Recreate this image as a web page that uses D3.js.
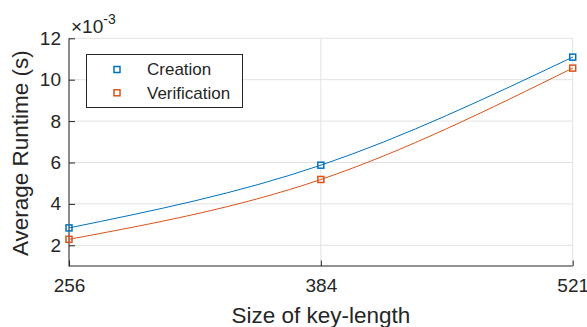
<!DOCTYPE html>
<html><head><meta charset="utf-8">
<script src="https://cdn.jsdelivr.net/npm/d3@7"></script>
<style>
html,body{margin:0;padding:0;background:#fff;}
svg{display:block;font-family:"Liberation Sans",Arial,Helvetica,sans-serif;}
</style></head>
<body>
<svg id="chart" width="587" height="327"></svg>
<script>
const categories = ["256", "384", "521"];
const creation = [2.84, 5.87, 11.09];
const verification = [2.29, 5.18, 10.56];
const yTicks = [2, 4, 6, 8, 10, 12];
const seriesNames = ["Creation", "Verification"];
const seriesColors = ["#0072BD", "#D95319"];

const svg = d3.select("#chart");
const L = 69, R = 572.7, T = 38.3, B = 266;
const x = d3.scalePoint().domain(categories).range([L, R]).padding(0);
const y = d3.scaleLinear().domain([1, 12]).range([B, T]);
const ink = "#262626", grid = "#e2e2e2";

// grid
const g = svg.append("g");
g.selectAll("line.gy").data(yTicks).join("line")
  .attr("x1", L).attr("x2", R).attr("y1", d => y(d)).attr("y2", d => y(d))
  .attr("stroke", grid).attr("stroke-width", 1);
g.selectAll("line.gx").data(categories).join("line")
  .attr("x1", d => x(d)).attr("x2", d => x(d)).attr("y1", T).attr("y2", B)
  .attr("stroke", grid).attr("stroke-width", 1);

// axes
const yAxis = d3.axisLeft(y).tickValues(yTicks).tickSize(-6).tickPadding(8).tickSizeOuter(0);
const ya = svg.append("g").attr("transform", `translate(${L},0)`).call(yAxis);
const xAxis = d3.axisBottom(x).tickSize(-5.5).tickPadding(13).tickSizeOuter(0);
const xa = svg.append("g").attr("transform", `translate(0,${B})`).call(xAxis);
[ya, xa].forEach(a => {
  a.selectAll(".tick line").attr("stroke", ink);
  a.selectAll("text").attr("fill", ink).attr("font-size", 19)
    .attr("font-family", '"Liberation Sans",Arial,sans-serif');
});
ya.select(".domain").remove();
xa.select(".domain").remove();
svg.append("line").attr("x1", L).attr("x2", L).attr("y1", T).attr("y2", B + 0.5).attr("stroke", ink);
svg.append("line").attr("x1", L).attr("x2", R).attr("y1", B).attr("y2", B).attr("stroke", ink);
xa.selectAll("text").attr("dy", "0.71em");

// exponent
const ex = svg.append("text").attr("x", 71).attr("y", 33).attr("fill", ink)
  .attr("font-size", 19);
ex.append("tspan").text("\u00d710");
ex.append("tspan").attr("dy", -9).attr("font-size", 14).text("-3");

// series
const line = d3.line().x((d, i) => x(categories[i])).y(d => y(d)).curve(d3.curveNatural);
[creation, verification].forEach((s, k) => {
  svg.append("path").datum(s).attr("d", line).attr("fill", "none")
    .attr("stroke", seriesColors[k]).attr("stroke-width", 1);
  svg.selectAll(null).data(s).join("rect")
    .attr("x", (d, i) => x(categories[i]) - 3).attr("y", d => y(d) - 3)
    .attr("width", 6).attr("height", 6).attr("fill", "none")
    .attr("stroke", seriesColors[k]).attr("stroke-width", 1.5);
});

// legend
const lg = svg.append("g");
lg.append("rect").attr("x", 86.5).attr("y", 54.5).attr("width", 156).attr("height", 53)
  .attr("fill", "#fff").attr("stroke", ink).attr("stroke-width", 1);
seriesNames.forEach((n, k) => {
  const cy = 69.5 + k * 23.3;
  lg.append("rect").attr("x", 114).attr("y", cy - 3).attr("width", 6).attr("height", 6)
    .attr("fill", "none").attr("stroke", seriesColors[k]).attr("stroke-width", 1.5);
  lg.append("text").attr("x", 147).attr("y", cy).attr("dy", "0.35em")
    .attr("font-size", 17).attr("fill", ink).text(n);
});

// axis labels
svg.append("text").attr("x", (L + R) / 2).attr("y", 323).attr("text-anchor", "middle")
  .attr("font-size", 22.5).attr("fill", ink).text("Size of key-length");
svg.append("text").attr("transform", `translate(27.5,${(T + B) / 2 + 1}) rotate(-90)`)
  .attr("text-anchor", "middle").attr("font-size", 22.5).attr("fill", ink)
  .text("Average Runtime (s)");
</script>
</body></html>
